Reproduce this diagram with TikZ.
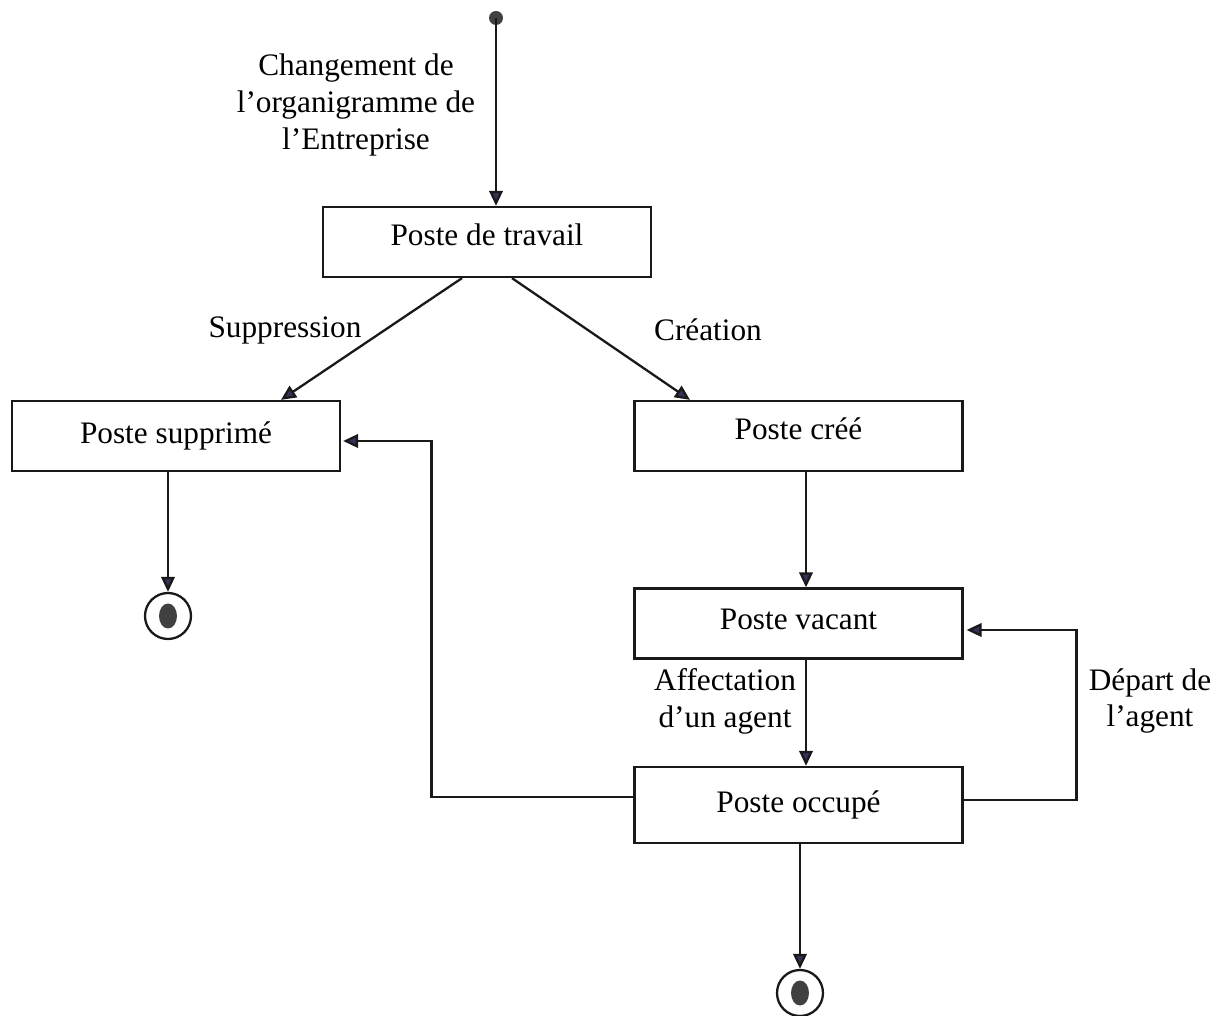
\documentclass[tikz,border=0pt]{standalone}
\usepackage{fontspec}
\setmainfont{Liberation Serif}
\usetikzlibrary{arrows.meta,calc}
\begin{document}
\begin{tikzpicture}[x=0.02cm,y=-0.02cm,
  every node/.style={font=\fontsize{17.8}{21}\selectfont},
  state/.style={draw=black!90,line width=1.3pt,minimum width=6.56cm,minimum height=1.4cm,inner sep=0pt},
  link/.style={draw=black!90,line width=1.3pt,-{Triangle[length=0.3cm,width=0.27cm,fill=black!75!blue!60!gray]}},
  lbl/.style={align=center,inner sep=0pt}]
\useasboundingbox (0,0) rectangle (1225,1016);

% initial pseudo-state
\fill[black!75] (496,18) circle (0.14cm);
\coordinate (init) at (496,18);

% states
\node[state] (travail) at (487,242) {\raisebox{8pt}{Poste de travail}};
\node[state] (supp) at (176,436) {Poste supprimé};
\node[state] (cree) at (798.5,436) {\raisebox{8pt}{Poste créé}};
\node[state] (vacant) at (798.5,623.5) {\raisebox{5pt}{Poste vacant}};
\node[state,minimum height=1.52cm] (occ) at (798.5,805) {Poste occupé};

% final pseudo-states
\node[draw=black!90,line width=1.3pt,circle,minimum size=0.92cm,inner sep=0pt] (f1) at (168,616) {};
\fill[black!75] (f1.center) ellipse (0.18cm and 0.25cm);
\node[draw=black!90,line width=1.3pt,circle,minimum size=0.92cm,inner sep=0pt] (f2) at (800,993) {};
\fill[black!75] (f2.center) ellipse (0.18cm and 0.25cm);

% transitions
\draw[link] (init) -- (init |- travail.north);
\draw[link] ($(travail.south)+(-25,0)$) -- ($(supp.north)+(105,0)$);
\draw[link] ($(travail.south)+(25,0)$) -- ($(cree.north)+(-108.5,0)$);
\draw[link] (supp.south -| f1) -- (f1.north);
\draw[link] ($(cree.south)+(7.5,0)$) -- ($(vacant.north)+(7.5,0)$);
\draw[link] ($(vacant.south)+(7.5,0)$) -- ($(occ.north)+(7.5,0)$);
\draw[link] (occ.south -| f2) -- (f2.north);
\draw[link] ($(occ.east)+(0,-5)$) -- ++(113,0) |- ($(vacant.east)+(3,6.5)$);
\draw[link] ($(occ.west)+(0,-8)$) -- ++(-202,0) |- ($(supp.east)+(2,5)$);

% labels
\node[lbl] (lchg) at (356,105) {Changement de\\l’organigramme de\\l’Entreprise};
\node[lbl] (lsup) at (285,330) {Suppression};
\node[lbl] (lcre) at (708,330) {Création};
\node[lbl] (laff) at (725,701) {Affectation\\d’un agent};
\node[lbl] (ldep) at (1150,701) {Départ de\\l’agent};
\end{tikzpicture}
\end{document}
